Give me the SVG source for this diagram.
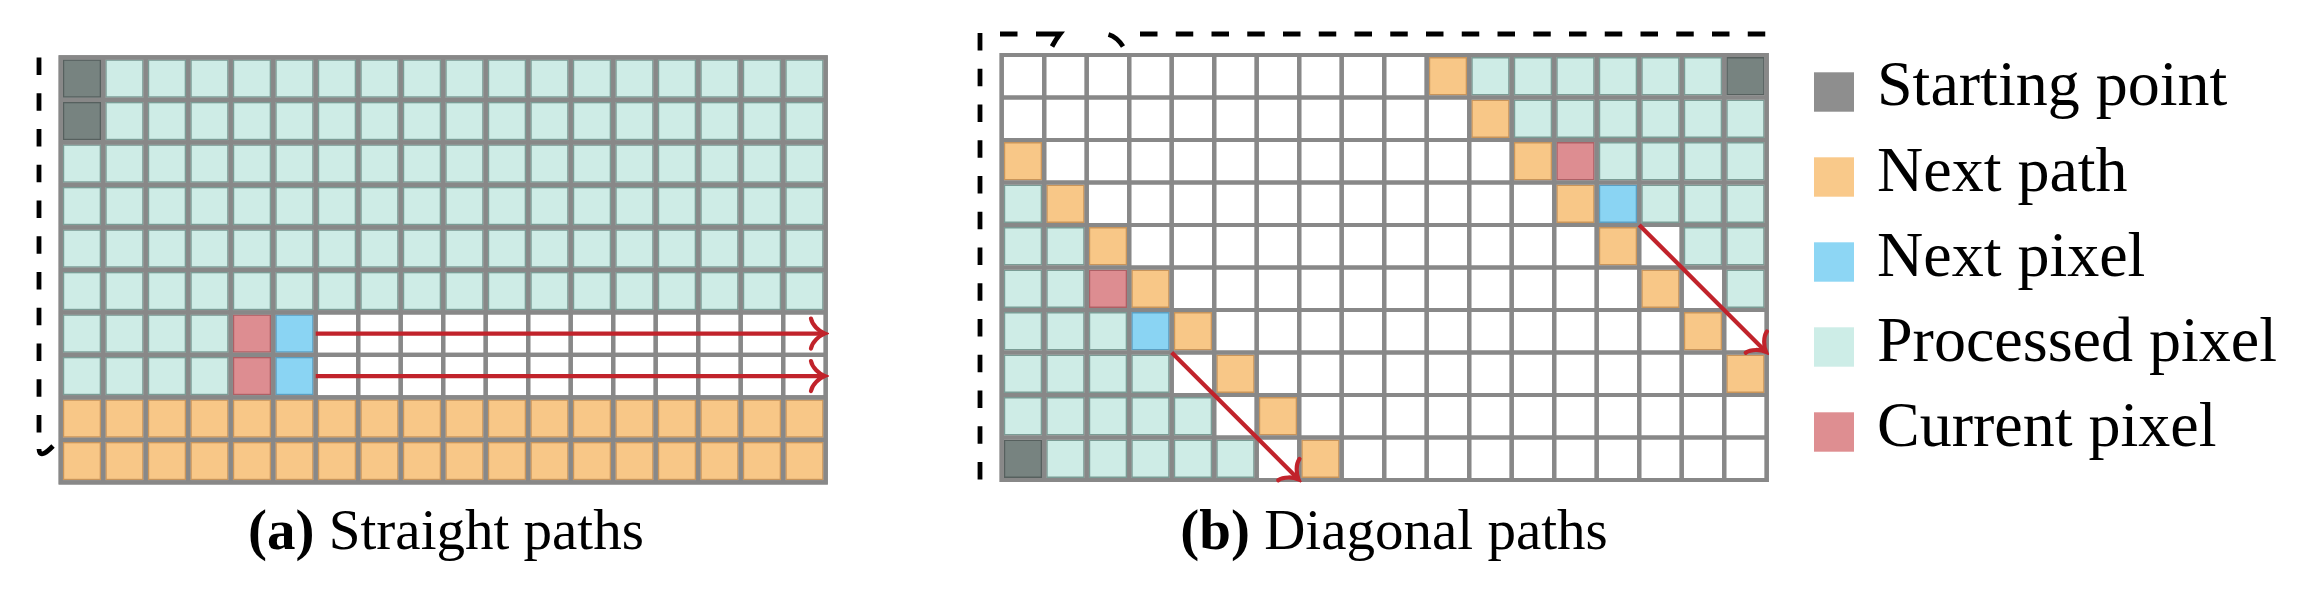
<svg xmlns="http://www.w3.org/2000/svg" xmlns:xlink="http://www.w3.org/1999/xlink" width="2305" height="596" viewBox="0 0 2305 596">
<style>
.gl{fill:none;stroke:#888888;stroke-width:4.2;stroke-linecap:square}
.gll{fill:none;stroke:#e4e4e4;stroke-width:0.8}
.dash{fill:none;stroke:#000;stroke-width:4.8;stroke-dasharray:17.5 18.25}
.solid{fill:none;stroke:#000;stroke-width:4.8;stroke-linecap:butt}
.arr{fill:none;stroke:#C1232B;stroke-width:4.2;marker-end:url(#ah)}
.lt{font-family:"Liberation Serif","Times New Roman",serif;font-size:64px;fill:#000}
.cap{font-family:"Liberation Serif","Times New Roman",serif;font-size:57px;fill:#000;text-anchor:middle}
</style>
<defs>
<rect id="cP" x="2.75" y="2.75" width="37" height="37" fill="#CEECE6" stroke="#7A9C95" stroke-width="1.5"/>
<rect id="cS" x="2.75" y="2.75" width="37" height="37" fill="#778380" stroke="#56605E" stroke-width="1.5"/>
<rect id="cO" x="2.75" y="2.75" width="37" height="37" fill="#F8C787" stroke="#C9955A" stroke-width="1.5"/>
<rect id="cB" x="2.75" y="2.75" width="37" height="37" fill="#8AD4F3" stroke="#5A9FC2" stroke-width="1.5"/>
<rect id="cR" x="2.75" y="2.75" width="37" height="37" fill="#DD8D91" stroke="#AE6065" stroke-width="1.5"/>
<g id="rowP"><use href="#cP" x="0"/><use href="#cP" x="42.5"/><use href="#cP" x="85"/><use href="#cP" x="127.5"/><use href="#cP" x="170"/><use href="#cP" x="212.5"/><use href="#cP" x="255"/><use href="#cP" x="297.5"/><use href="#cP" x="340"/><use href="#cP" x="382.5"/><use href="#cP" x="425"/><use href="#cP" x="467.5"/><use href="#cP" x="510"/><use href="#cP" x="552.5"/><use href="#cP" x="595"/><use href="#cP" x="637.5"/><use href="#cP" x="680"/><use href="#cP" x="722.5"/></g>
<g id="rowO"><use href="#cO" x="0"/><use href="#cO" x="42.5"/><use href="#cO" x="85"/><use href="#cO" x="127.5"/><use href="#cO" x="170"/><use href="#cO" x="212.5"/><use href="#cO" x="255"/><use href="#cO" x="297.5"/><use href="#cO" x="340"/><use href="#cO" x="382.5"/><use href="#cO" x="425"/><use href="#cO" x="467.5"/><use href="#cO" x="510"/><use href="#cO" x="552.5"/><use href="#cO" x="595"/><use href="#cO" x="637.5"/><use href="#cO" x="680"/><use href="#cO" x="722.5"/></g>
<marker id="ah" viewBox="-20 -20 24 40" refX="0" refY="0" markerWidth="24" markerHeight="40" markerUnits="userSpaceOnUse" orient="auto">
<path d="M-13.5,-15 C-12.5,-8.5 -5,-2 0,0 C-5,2 -12.5,8.5 -13.5,15" fill="none" stroke="#C1232B" stroke-width="4.2" stroke-linecap="round"/>
</marker>
</defs>
<rect width="2305" height="596" fill="#fff"/>

<g id="grid-a">
<use href="#rowP" x="60.7" y="57.3"/>
<use href="#rowP" x="60.7" y="99.8"/>
<use href="#rowP" x="60.7" y="142.3"/>
<use href="#rowP" x="60.7" y="184.8"/>
<use href="#rowP" x="60.7" y="227.3"/>
<use href="#rowP" x="60.7" y="269.8"/>
<use href="#cS" x="60.7" y="57.3"/>
<use href="#cS" x="60.7" y="99.8"/>
<use href="#cP" x="60.7" y="312.3"/><use href="#cP" x="103.2" y="312.3"/><use href="#cP" x="145.7" y="312.3"/><use href="#cP" x="188.2" y="312.3"/><use href="#cR" x="230.7" y="312.3"/><use href="#cB" x="273.2" y="312.3"/>
<use href="#cP" x="60.7" y="354.8"/><use href="#cP" x="103.2" y="354.8"/><use href="#cP" x="145.7" y="354.8"/><use href="#cP" x="188.2" y="354.8"/><use href="#cR" x="230.7" y="354.8"/><use href="#cB" x="273.2" y="354.8"/>
<use href="#rowO" x="60.7" y="397.3"/>
<use href="#rowO" x="60.7" y="439.8"/>
<path id="grid-a-lines" class="gl" d="M60.7 57.3V482.3M103.2 57.3V482.3M145.7 57.3V482.3M188.2 57.3V482.3M230.7 57.3V482.3M273.2 57.3V482.3M315.7 57.3V482.3M358.2 57.3V482.3M400.7 57.3V482.3M443.2 57.3V482.3M485.7 57.3V482.3M528.2 57.3V482.3M570.7 57.3V482.3M613.2 57.3V482.3M655.7 57.3V482.3M698.2 57.3V482.3M740.7 57.3V482.3M783.2 57.3V482.3M825.7 57.3V482.3M60.7 57.3H825.7M60.7 99.8H825.7M60.7 142.3H825.7M60.7 184.8H825.7M60.7 227.3H825.7M60.7 269.8H825.7M60.7 312.3H825.7M60.7 354.8H825.7M60.7 397.3H825.7M60.7 439.8H825.7M60.7 482.3H825.7"/>
<use href="#grid-a-lines" class="gll"/>
</g>

<g id="grid-b">
<use href="#cO" x="1426.7" y="55"/><use href="#cP" x="1469.2" y="55"/><use href="#cP" x="1511.7" y="55"/><use href="#cP" x="1554.2" y="55"/><use href="#cP" x="1596.7" y="55"/><use href="#cP" x="1639.2" y="55"/><use href="#cP" x="1681.7" y="55"/><use href="#cS" x="1724.2" y="55"/>
<use href="#cO" x="1469.2" y="97.5"/><use href="#cP" x="1511.7" y="97.5"/><use href="#cP" x="1554.2" y="97.5"/><use href="#cP" x="1596.7" y="97.5"/><use href="#cP" x="1639.2" y="97.5"/><use href="#cP" x="1681.7" y="97.5"/><use href="#cP" x="1724.2" y="97.5"/>
<use href="#cO" x="1001.7" y="140"/><use href="#cO" x="1511.7" y="140"/><use href="#cR" x="1554.2" y="140"/><use href="#cP" x="1596.7" y="140"/><use href="#cP" x="1639.2" y="140"/><use href="#cP" x="1681.7" y="140"/><use href="#cP" x="1724.2" y="140"/>
<use href="#cP" x="1001.7" y="182.5"/><use href="#cO" x="1044.2" y="182.5"/><use href="#cO" x="1554.2" y="182.5"/><use href="#cB" x="1596.7" y="182.5"/><use href="#cP" x="1639.2" y="182.5"/><use href="#cP" x="1681.7" y="182.5"/><use href="#cP" x="1724.2" y="182.5"/>
<use href="#cP" x="1001.7" y="225"/><use href="#cP" x="1044.2" y="225"/><use href="#cO" x="1086.7" y="225"/><use href="#cO" x="1596.7" y="225"/><use href="#cP" x="1681.7" y="225"/><use href="#cP" x="1724.2" y="225"/>
<use href="#cP" x="1001.7" y="267.5"/><use href="#cP" x="1044.2" y="267.5"/><use href="#cR" x="1086.7" y="267.5"/><use href="#cO" x="1129.2" y="267.5"/><use href="#cO" x="1639.2" y="267.5"/><use href="#cP" x="1724.2" y="267.5"/>
<use href="#cP" x="1001.7" y="310"/><use href="#cP" x="1044.2" y="310"/><use href="#cP" x="1086.7" y="310"/><use href="#cB" x="1129.2" y="310"/><use href="#cO" x="1171.7" y="310"/><use href="#cO" x="1681.7" y="310"/>
<use href="#cP" x="1001.7" y="352.5"/><use href="#cP" x="1044.2" y="352.5"/><use href="#cP" x="1086.7" y="352.5"/><use href="#cP" x="1129.2" y="352.5"/><use href="#cO" x="1214.2" y="352.5"/><use href="#cO" x="1724.2" y="352.5"/>
<use href="#cP" x="1001.7" y="395"/><use href="#cP" x="1044.2" y="395"/><use href="#cP" x="1086.7" y="395"/><use href="#cP" x="1129.2" y="395"/><use href="#cP" x="1171.7" y="395"/><use href="#cO" x="1256.7" y="395"/>
<use href="#cS" x="1001.7" y="437.5"/><use href="#cP" x="1044.2" y="437.5"/><use href="#cP" x="1086.7" y="437.5"/><use href="#cP" x="1129.2" y="437.5"/><use href="#cP" x="1171.7" y="437.5"/><use href="#cP" x="1214.2" y="437.5"/><use href="#cO" x="1299.2" y="437.5"/>
<path id="grid-b-lines" class="gl" d="M1001.7 55V480M1044.2 55V480M1086.7 55V480M1129.2 55V480M1171.7 55V480M1214.2 55V480M1256.7 55V480M1299.2 55V480M1341.7 55V480M1384.2 55V480M1426.7 55V480M1469.2 55V480M1511.7 55V480M1554.2 55V480M1596.7 55V480M1639.2 55V480M1681.7 55V480M1724.2 55V480M1766.7 55V480M1001.7 55H1766.7M1001.7 97.5H1766.7M1001.7 140H1766.7M1001.7 182.5H1766.7M1001.7 225H1766.7M1001.7 267.5H1766.7M1001.7 310H1766.7M1001.7 352.5H1766.7M1001.7 395H1766.7M1001.7 437.5H1766.7M1001.7 480H1766.7"/>
<use href="#grid-b-lines" class="gll"/>
</g>

<g id="connectors">
<path class="dash" d="M39 57.5V433"/>
<path class="solid" d="M39 449 Q39.5 460 53 446"/>
<path class="dash" d="M980 33V480"/>
<path class="solid" d="M1000 34H1017.5M1036 34H1060 Q1056 39 1052 46.5"/>
<path class="solid" d="M1108.5 34.5 Q1117 37 1123 46.5"/>
<path class="dash" d="M1140 34H1768"/>
<path class="arr" d="M315.7 333.55H824.5"/>
<path class="arr" d="M315.7 376.05H824.5"/>
<path class="arr" d="M1171.7 352.5L1298.4 479.2"/>
<path class="arr" d="M1639.2 225L1765.9 351.7"/>
</g>

<g id="legend">
<rect x="1814" y="72.3" width="40" height="39.4" fill="#8E8E8E"/>
<text class="lt" x="1877" y="105">Starting point</text>
<rect x="1814" y="157.3" width="40" height="39.4" fill="#F9C98A"/>
<text class="lt" x="1877" y="190.5">Next path</text>
<rect x="1814" y="242.3" width="40" height="39.4" fill="#8DD6F4"/>
<text class="lt" x="1877" y="275.5">Next pixel</text>
<rect x="1814" y="327.3" width="40" height="39.4" fill="#CDEDE7"/>
<text class="lt" x="1877" y="360.5">Processed pixel</text>
<rect x="1814" y="412.3" width="40" height="39.4" fill="#DE8E91"/>
<text class="lt" x="1877" y="445.5">Current pixel</text>
</g>

<g id="caption-a"><text class="cap" x="446" y="549"><tspan font-weight="bold">(a)</tspan> Straight paths</text></g>
<g id="caption-b"><text class="cap" x="1394" y="549"><tspan font-weight="bold">(b)</tspan> Diagonal paths</text></g>
</svg>
